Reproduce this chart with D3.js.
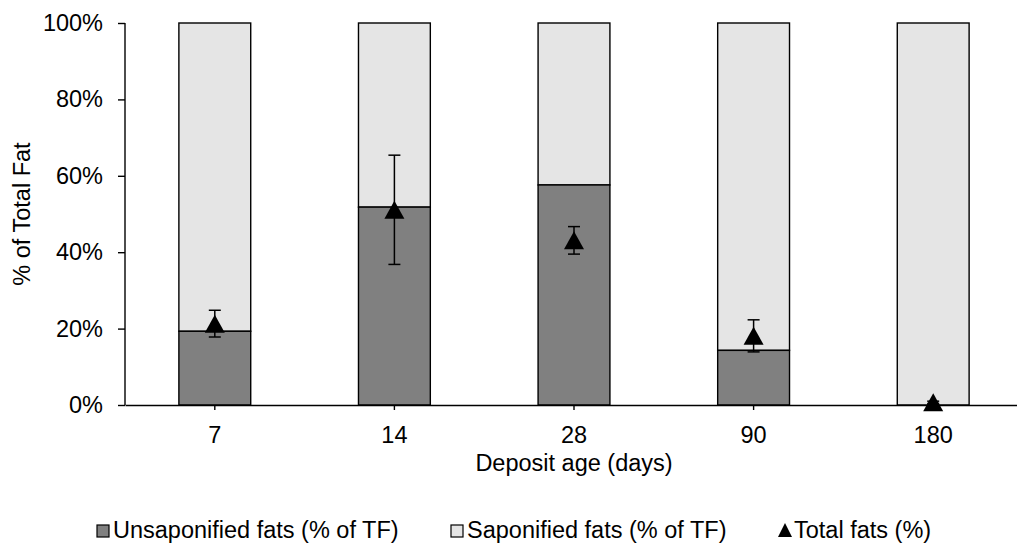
<!DOCTYPE html>
<html>
<head>
<meta charset="utf-8">
<script src="https://cdn.jsdelivr.net/npm/d3@7"></script>
<style>
  html, body { margin: 0; padding: 0; background: #fff; }
  svg { display: block; font-family: "Liberation Sans", Arial, sans-serif; }
</style>
</head>
<body>
<svg id="chart" width="1017" height="550"></svg>
<script>
// Deposit ages (days)
const days = ["7", "14", "28", "90", "180"];
// Unsaponified share of total fat; saponified is the remainder
const unsaponified = [0.193, 0.518, 0.576, 0.143, 0.0];
// Total fats (%) with error bar half-widths
const totalFats = [0.213, 0.511, 0.431, 0.181, 0.007];
const totalErr = [0.035, 0.143, 0.036, 0.042, 0.003];
// Y axis ticks
const yTicks = [0, 0.2, 0.4, 0.6, 0.8, 1.0];
const legendLabels = ["Unsaponified fats (% of TF)", "Saponified fats (% of TF)", "Total fats (%)"];

const FONT = 23.5;
const svg = d3.select("#chart");
const plot = { left: 125, right: 1023, top: 23, bottom: 405 };

const x = d3.scaleBand().domain(days).range([plot.left, plot.right])
  .paddingInner(0.6).paddingOuter(0.3);
const y = d3.scaleLinear().domain([0, 1]).range([plot.bottom, plot.top]);

const rows = days.map((d, i) => ({
  day: d, unsap: unsaponified[i], sap: 1 - unsaponified[i],
  total: totalFats[i], err: totalErr[i]
}));

// stacked bars: saponified on top of unsaponified
const g = svg.append("g");
g.selectAll("rect.sap").data(rows).join("rect")
  .attr("x", d => x(d.day)).attr("width", x.bandwidth())
  .attr("y", d => y(d.unsap + d.sap)).attr("height", d => y(d.unsap) - y(d.unsap + d.sap))
  .attr("fill", "#e5e5e5").attr("stroke", "#000").attr("stroke-width", 1.4);
g.selectAll("rect.unsap").data(rows).join("rect")
  .attr("x", d => x(d.day)).attr("width", x.bandwidth())
  .attr("y", d => y(d.unsap)).attr("height", d => y(0) - y(d.unsap))
  .attr("fill", "#808080").attr("stroke", "#000").attr("stroke-width", 1.4);

// y axis
const yAxis = d3.axisLeft(y).tickValues(yTicks).tickFormat(d3.format(".0%"))
  .tickSize(7).tickPadding(15);
const ya = svg.append("g").attr("transform", `translate(${plot.left},0)`).call(yAxis);
ya.select(".domain").attr("stroke", "#000").attr("stroke-width", 1.4).attr("d", `M-0,${plot.top}V${plot.bottom}`);
ya.selectAll(".tick line").attr("stroke", "#000").attr("stroke-width", 1.4);
ya.selectAll(".tick text").attr("font-size", FONT).attr("fill", "#000")
  .attr("font-family", "Liberation Sans, Arial, sans-serif");

// x axis
const xAxis = d3.axisBottom(x).tickSize(5).tickPadding(16).tickSizeOuter(0);
const xa = svg.append("g").attr("transform", `translate(0,${plot.bottom})`).call(xAxis);
xa.select(".domain").attr("stroke", "#000").attr("stroke-width", 1.4);
xa.selectAll(".tick line").attr("stroke", "#000").attr("stroke-width", 1.4);
xa.selectAll(".tick text").attr("font-size", FONT).attr("fill", "#000")
  .attr("font-family", "Liberation Sans, Arial, sans-serif");

// error bars for total fats
const eb = svg.append("g").attr("stroke", "#000").attr("stroke-width", 1.5);
rows.forEach(d => {
  const cx = x(d.day) + x.bandwidth() / 2;
  const y1 = y(d.total + d.err), y2 = y(d.total - d.err);
  eb.append("line").attr("x1", cx).attr("x2", cx).attr("y1", y1).attr("y2", y2);
  eb.append("line").attr("x1", cx - 6).attr("x2", cx + 6).attr("y1", y1).attr("y2", y1);
  eb.append("line").attr("x1", cx - 6).attr("x2", cx + 6).attr("y1", y2).attr("y2", y2);
});

// triangle markers
const tri = (cx, cy, w, h) => `M${cx},${cy - h / 2}L${cx + w / 2},${cy + h / 2}L${cx - w / 2},${cy + h / 2}Z`;
svg.append("g").selectAll("path").data(rows).join("path")
  .attr("d", d => tri(x(d.day) + x.bandwidth() / 2, y(d.total), 20, 18))
  .attr("fill", "#000");

// axis titles
svg.append("text").attr("x", (plot.left + plot.right) / 2).attr("y", 471)
  .attr("text-anchor", "middle").attr("font-size", FONT).text("Deposit age (days)");
svg.append("text").attr("transform", `translate(30,${(plot.top + plot.bottom) / 2}) rotate(-90)`)
  .attr("text-anchor", "middle").attr("font-size", FONT).text("% of Total Fat");

// legend
const lg = svg.append("g").attr("font-size", FONT);
const base = 538;
const items = [
  { x: 97, kind: "rect", fill: "#808080" },
  { x: 451, kind: "rect", fill: "#e5e5e5" },
  { x: 778, kind: "tri", fill: "#000" }
];
items.forEach((it, i) => {
  if (it.kind === "rect") {
    lg.append("rect").attr("x", it.x).attr("y", base - 13).attr("width", 12).attr("height", 12)
      .attr("fill", it.fill).attr("stroke", "#000").attr("stroke-width", 1.2);
  } else {
    lg.append("path").attr("d", tri(it.x + 7, base - 8, 14, 14)).attr("fill", "#000");
  }
  lg.append("text").attr("x", it.x + 16).attr("y", base).text(legendLabels[i]);
});
</script>
</body>
</html>
